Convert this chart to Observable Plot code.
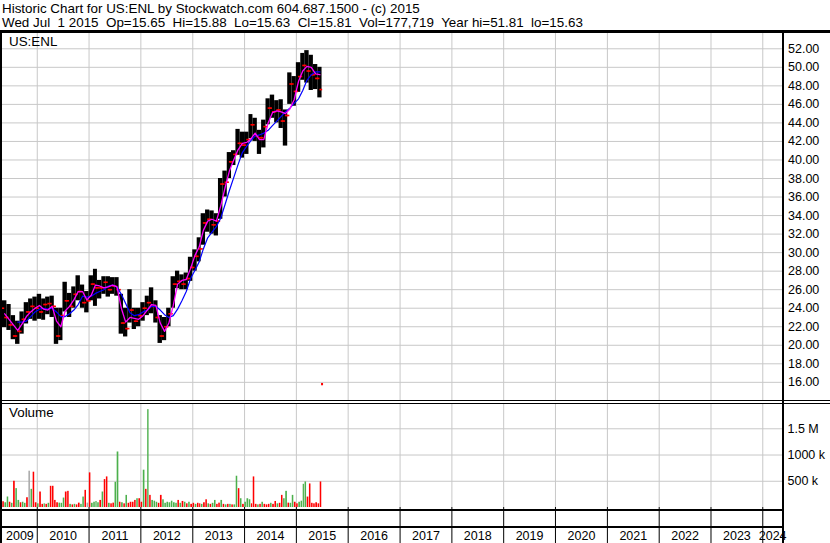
<!DOCTYPE html>
<html><head><meta charset="utf-8">
<script src="https://cdn.jsdelivr.net/npm/d3@7"></script>
<script src="https://cdn.jsdelivr.net/npm/@observablehq/plot@0.6"></script>
<style>
body{margin:0;background:#fff;}
#chart{position:relative;width:830px;height:543px;overflow:hidden;background:#fff;font-family:'Liberation Sans',Arial,sans-serif;color:#000;}
.t{position:absolute;white-space:pre;font-size:13.4px;line-height:14px;color:#000;}
.b{position:absolute;background:#000;}
#chart svg{position:absolute;left:0;}
</style></head><body><div id="chart"></div>
<script>
// ---------- data ----------
const headerLine1 = "Historic Chart for US:ENL by Stockwatch.com 604.687.1500 - (c) 2015";
const headerLine2 = "Wed Jul  1 2015  Op=15.65  Hi=15.88  Lo=15.63  Cl=15.81  Vol=177,719  Year hi=51.81  lo=15.63";
const tickerLabel = "US:ENL";
const volumeLabel = "Volume";

const firstMonth = "2009-05-01";
const lastMonthEnd = "2015-07-01";
const xDomain = ["2009-05-01", "2024-05-19"];

const priceHigh = [
24.8,24.4,23.2,22.6,23.6,24.6,25.0,25.2,25.5,25.0,
25.2,25.3,24.0,24.0,26.8,25.6,26.3,27.5,26.5,25.8,
27.5,28.2,27.0,27.4,27.4,27.3,27.3,25.5,24.0,26.0,
24.0,24.0,24.6,25.3,26.2,24.8,23.2,23.0,24.0,27.4,
28.0,27.6,27.8,29.5,30.3,31.6,34.2,34.6,34.5,34.2,
38.0,38.8,40.8,41.0,43.3,43.0,43.0,44.9,44.5,43.2,
44.3,46.6,47.0,46.4,46.5,45.4,49.4,49.0,50.5,51.5,
51.8,51.3,50.3,50.0];
const priceLow = [
21.9,21.6,20.6,20.1,21.2,22.3,22.8,22.6,22.8,22.7,
23.3,23.0,20.1,20.5,23.6,23.0,24.0,24.8,24.0,23.5,
24.8,24.2,25.0,25.5,25.2,25.5,25.3,21.2,20.9,22.4,
21.7,22.0,22.6,23.2,23.4,22.4,20.2,20.5,22.0,24.0,
26.1,26.0,26.0,26.9,28.0,29.0,30.8,32.2,32.0,31.8,
33.6,36.0,38.0,39.4,40.5,40.2,40.6,42.3,42.0,40.6,
41.3,43.8,44.5,44.0,43.4,41.5,46.0,45.8,47.3,48.6,
48.3,47.5,47.6,46.7];
const priceClose = [
23.0,22.2,21.0,21.5,22.8,23.6,24.2,24.0,23.6,24.4,
24.5,24.2,21.0,23.2,24.8,24.2,25.5,25.8,24.6,24.8,
26.6,26.2,26.2,26.8,26.0,26.4,26.0,22.4,21.8,23.8,
22.6,23.2,24.0,24.6,24.2,23.0,21.0,22.0,23.4,26.6,
26.9,26.6,27.2,28.4,29.6,30.4,33.2,33.6,33.0,33.4,
37.4,37.6,39.8,40.6,41.8,41.6,42.2,43.8,42.6,42.4,
43.6,45.6,45.2,45.4,44.2,44.8,48.2,47.4,49.0,50.2,
49.6,49.2,48.8,47.6];
const firstOpen = 24.0;

const maFast = [
23.4,22.8,22.2,21.6,22.3,23.1,23.6,24.0,24.3,23.9,
23.8,24.2,22.6,22.0,23.7,24.2,24.9,25.8,25.8,24.9,
25.4,26.5,26.4,26.2,26.3,26.5,26.3,24.0,22.5,23.0,
22.9,22.8,23.2,23.8,24.4,24.3,22.4,21.5,22.4,24.3,
26.6,27.0,27.1,28.3,29.7,30.6,32.4,33.4,33.6,33.4,
35.0,37.0,38.8,40.0,41.1,41.8,41.9,42.3,42.9,42.2,
42.2,44.0,45.1,45.3,45.2,45.0,45.5,46.5,48.5,49.6,
50.1,50.0,49.3,49.2];
const maSlow = [
null,null,null,22.5,22.5,22.6,23.1,23.6,23.9,24.0,
23.9,24.0,23.6,23.1,23.1,23.4,23.8,24.4,25.3,25.2,
25.3,25.6,25.8,26.0,26.4,26.5,26.3,25.5,24.5,23.5,
23.2,23.3,23.6,23.8,24.2,24.2,23.8,23.3,23.0,23.2,
23.9,24.8,25.8,27.2,28.1,29.0,30.4,31.6,32.2,32.8,
33.7,35.2,36.7,38.1,39.5,40.8,41.5,42.1,42.6,42.7,
42.9,43.2,43.7,44.2,44.7,45.2,45.6,46.1,46.6,47.5,
48.6,49.2,49.5,49.5];

const lastDay = {date: "2015-07-01", open: 15.65, high: 15.88, low: 15.63, close: 15.81};

// volume, thousands of shares, two half-month slots per month
const volumeK = [
110,90,200,100,80,500,360,135,90,100,
80,186,692,346,673,90,70,295,60,70,
60,80,404,404,135,90,83,80,180,295,
308,60,50,60,50,83,60,199,327,83,
660,80,100,115,90,135,295,532,583,80,
70,83,481,1058,100,90,70,231,80,100,
100,135,167,167,100,711,346,1865,231,135,
120,100,80,231,147,80,100,90,120,90,
80,135,80,115,100,70,100,60,80,60,
80,70,60,90,147,70,60,80,135,60,
83,135,60,50,60,60,50,50,596,359,
167,60,100,167,147,70,583,60,50,60,
100,60,50,60,80,60,115,70,80,231,
167,308,83,80,231,100,70,100,120,442,
487,199,449,80,70,90,70,487];
const volumeDir = (
"rggrgrggrg"+"grngrrgrrg"+"rgrrrrgggr"+"rgrgrrggrn"+"rggggrgrrg"+
"rrggrgrgrr"+"rrgrrgrgrg"+"ggrrgggggg"+"grgrgrgrrg"+"rrgrrgrggr"+
"rgrgrgrggr"+"grgggrrrgr"+"grrrgrrgrr"+"ggrggrrggg"+"grrrrrrr").split("");

const priceTicks = [16,18,20,22,24,26,28,30,32,34,36,38,40,42,44,46,48,50,52];
const volumeTicks = [500,1000,1500];
const volumeTickLabels = ["500 k","1000 k","1.5 M"];
const yearLabels = [2009,2010,2011,2012,2013,2014,2015,2016,2017,2018,2019,2020,2021,2022,2023,2024];

const colors = {bar:"#000000", tick:"#ff0000", fast:"#ff00ff", slow:"#0000ff",
  r:"#ff0000", g:"#4cb04c", n:"#a8a8a8", grid:"#c8c8c8"};

// ---------- build ----------
const d0 = new Date(xDomain[0]), d1 = new Date(xDomain[1]);
const months = d3.utcMonth.range(new Date(firstMonth), new Date(lastMonthEnd));
const bars = months.map((m, i) => {
  const end = d3.utcMonth.offset(m, 1);
  return {start: m, end, mid: new Date((+m + +end) / 2),
    hi: priceHigh[i], lo: priceLow[i], close: priceClose[i],
    open: i ? priceClose[i - 1] : firstOpen, fast: maFast[i], slow: maSlow[i]};
});
const volData = months.flatMap((m, i) => {
  const half = d3.utcDay.offset(m, 15), end = d3.utcMonth.offset(m, 1);
  return [{x1: m, x2: half, v: volumeK[2*i], c: colors[volumeDir[2*i]]},
          {x1: half, x2: end, v: volumeK[2*i+1], c: colors[volumeDir[2*i+1]]}];
});
const lastBar = [{date: new Date(lastDay.date), low: lastDay.low, high: lastDay.high}];
const yearStarts = yearLabels.slice(1).map(y => new Date(Date.UTC(y, 0, 1)));
const yearMarks = yearLabels.map(y => {
  const a = Math.max(Date.UTC(y, 0, 1), +d0), b = Math.min(Date.UTC(y + 1, 0, 1), +d1);
  return {label: String(y), mid: new Date((a + b) / 2)};
});

const style = {background: "none", overflow: "visible", fontFamily: "'Liberation Sans', Arial, sans-serif", fontSize: "12.5px", color: "#000"};

const pricePlot = Plot.plot({
  width: 830, height: 367, marginLeft: 2, marginRight: 48, marginTop: 0, marginBottom: 0,
  style,
  x: {type: "utc", domain: [d0, d1], axis: null},
  y: {domain: [14.04, 53.65]},
  marks: [
    Plot.gridY(priceTicks, {stroke: colors.grid, strokeOpacity: 1}),
    Plot.gridX(yearStarts, {stroke: colors.grid, strokeOpacity: 1}),
    Plot.axisY(priceTicks, {anchor: "right", tickSize: 0, tickPadding: 5.5, label: null,
      tickFormat: d => d.toFixed(2), fontSize: 12.5}),
    Plot.rect(bars, {x1: "start", x2: "end", y1: "lo", y2: "hi", fill: colors.bar}),
    Plot.ruleY(bars, {y: "open", x1: "start", x2: "mid", stroke: colors.tick, strokeWidth: 1.6, insetLeft: -0.6}),
    Plot.ruleY(bars, {y: "close", x1: "mid", x2: "end", stroke: colors.tick, strokeWidth: 1.6, insetRight: -0.6}),
    Plot.ruleX(lastBar, {x: "date", y1: "low", y2: "high", stroke: colors.tick, strokeWidth: 2}),
    Plot.line(bars, {x: "mid", y: "slow", stroke: colors.slow, strokeWidth: 1.2}),
    Plot.line(bars, {x: "mid", y: "fast", stroke: colors.fast, strokeWidth: 1.3})
  ]
});

const volPlot = Plot.plot({
  width: 830, height: 139, marginLeft: 2, marginRight: 48, marginTop: 0, marginBottom: 36,
  style,
  x: {type: "utc", domain: [d0, d1]},
  y: {domain: [0, 1963]},
  marks: [
    Plot.gridY(volumeTicks, {stroke: colors.grid, strokeOpacity: 1}),
    Plot.gridX(yearStarts, {stroke: colors.grid, strokeOpacity: 1}),
    Plot.axisY(volumeTicks, {anchor: "right", tickSize: 0, tickPadding: 5, label: null,
      tickFormat: d => volumeTickLabels[volumeTicks.indexOf(d)], fontSize: 12.5}),
    Plot.axisX(yearStarts, {anchor: "bottom", tickSize: 36, label: null, tickFormat: () => "", stroke: "#000", strokeOpacity: 1}),
    Plot.rect(volData, {x1: "x1", x2: "x2", y1: 0, y2: "v", fill: "c", insetLeft: 0.3, insetRight: 0.3}),
    Plot.text(yearMarks, {x: "mid", text: "label", frameAnchor: "bottom", dy: 28, lineAnchor: "middle", fontSize: 12.5, fill: "#000"})
  ]
});

const chart = document.getElementById("chart");
pricePlot.style.top = "33px";
volPlot.style.top = "404px";
chart.append(pricePlot, volPlot);

function box(cls, l, t, w, h, text) {
  const d = document.createElement("div");
  d.className = cls;
  d.style.left = l + "px"; d.style.top = t + "px";
  if (w != null) d.style.width = w + "px";
  if (h != null) d.style.height = h + "px";
  if (text != null) d.textContent = text;
  chart.append(d);
}
// frame lines
box("b", 0, 30, 830, 3);
box("b", 0, 400, 830, 1);
box("b", 0, 403, 830, 1);
box("b", 0, 509, 784, 2);
box("b", 0, 526, 784, 2);
box("b", 0, 30, 2, 513);
box("b", 782, 30, 2, 513);
// texts
box("t", 2, 2, null, null, headerLine1);
box("t", 2, 16, null, null, headerLine2);
box("t", 9, 34.5, null, null, tickerLabel);
box("t", 9, 406, null, null, volumeLabel);
</script></body></html>
